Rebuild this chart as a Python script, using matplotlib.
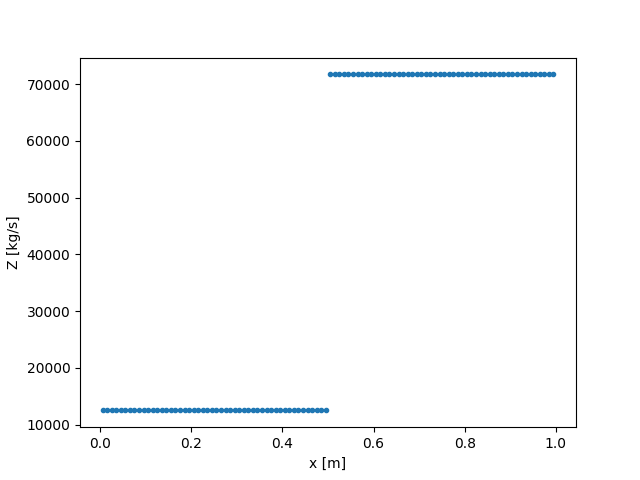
import numpy as np
import matplotlib
matplotlib.use('Agg')
import matplotlib.pyplot as plt

# cell centres of a 100-cell grid on [0, 1]
n_cells = 100
x_centres = (np.arange(n_cells) + 0.5) / n_cells

z_left = 12500.0
z_right = 71700.0
Z = np.where(x_centres < 0.5, z_left, z_right)

fig, ax = plt.subplots(figsize=(6.4, 4.8), dpi=100)
ax.plot(x_centres, Z, '.')
ax.set_xlabel("x [m]")
ax.set_ylabel("Z [kg/s]")

fig.savefig("out.png")
